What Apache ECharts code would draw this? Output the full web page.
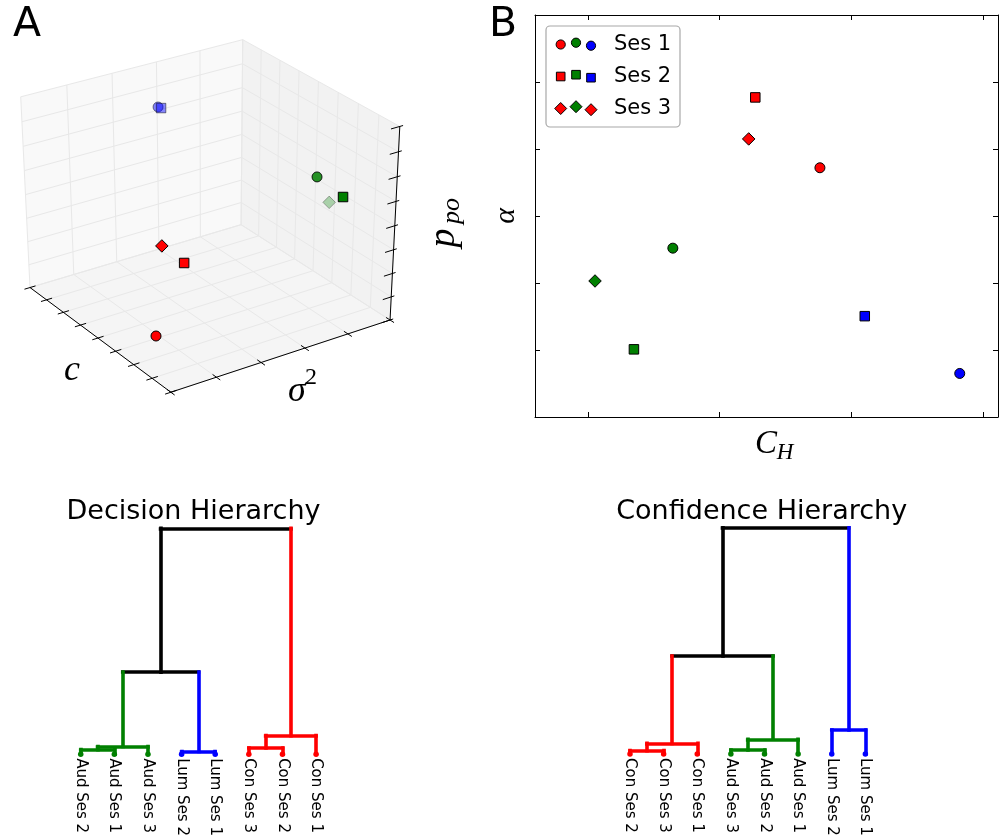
<!DOCTYPE html>
<html>
<head>
<meta charset="UTF-8">
<title>decision / confidence hierarchy</title>
<script src="https://cdn.jsdelivr.net/npm/echarts@6/dist/echarts.min.js"></script>
<style>
  html, body { margin: 0; padding: 0; background: #fff; }
  #chart { width: 999px; height: 839px; }
</style>
</head>
<body>
<div id="chart"></div>
<script>
// ---------- data ----------
var conditions = ['Con', 'Aud', 'Lum'];
var sessions = ['Ses 1', 'Ses 2', 'Ses 3'];

// A: fitted parameters, one list per condition, one value per session (axis-normalised)
var cValues      = [[0.854, 0.805, 0.707], [0.798, 0.985, 0.603], [0.147, 0.148]];
var sigma2Values = [[0.033, 0.190, 0.158], [0.784, 0.765, 0.991], [0.510, 0.523]];
var ppoValues    = [[0.198, 0.490, 0.537], [0.722, 0.718, 0.427], [0.861, 0.852]];
var cTicks      = [0, 0.125, 0.25, 0.375, 0.5, 0.625, 0.75, 0.875, 1];
var sigma2Ticks = [0, 0.2, 0.4, 0.6, 0.8, 1];
var ppoTicks    = [0, 0.125, 0.25, 0.375, 0.5, 0.625, 0.75, 0.875, 1];

// B
var chValues    = [[0.552, 0.454, 0.444], [0.329, 0.270, 0.211], [0.764, 0.620]];
var alphaValues = [[3.72, 4.77, 4.15], [2.52, 1.01, 2.03], [0.65, 1.505]];
var chTicks     = [0.2, 0.4, 0.6, 0.8];
var alphaTicks  = [1, 2, 3, 4, 5];

// C / D: leaf order, merges [left node, right node, height]; merged nodes get ids after the leaves
var decisionLeaves = ['Aud Ses 2', 'Aud Ses 1', 'Aud Ses 3', 'Lum Ses 2', 'Lum Ses 1', 'Con Ses 3', 'Con Ses 2', 'Con Ses 1'];
var decisionLinks  = [[0, 1, 0.020], [8, 2, 0.034], [3, 4, 0.012], [5, 6, 0.027], [11, 7, 0.082], [9, 10, 0.363], [13, 12, 1.0]];
var confidenceLeaves = ['Con Ses 2', 'Con Ses 3', 'Con Ses 1', 'Aud Ses 3', 'Aud Ses 2', 'Aud Ses 1', 'Lum Ses 2', 'Lum Ses 1'];
var confidenceLinks  = [[0, 1, 0.015], [8, 2, 0.047], [3, 4, 0.018], [10, 5, 0.065], [6, 7, 0.106], [9, 11, 0.433], [13, 12, 1.0]];

// ---------- styles ----------
var condColor = { Con: '#ff0000', Aud: '#008000', Lum: '#0000ff' };
var sesSymbol = ['circle', 'rect', 'diamond'];
var sesSize = [10, 9.5, 12.5];
var mathFont = '"Liberation Serif", "DejaVu Serif", serif';
var sansFont = '"DejaVu Sans", sans-serif';
var DENDRO_W = 3.6;

// ---------- 3d projection (matplotlib-like camera) ----------
var ELEV = 31, AZIM = -34, DIST = 10;
var CX = 208, CY = 210, SX = 266, SY = 224;   // where the projected box sits on the page
var GA = { left: 0, top: 0, width: 470, height: 430 };
var el = ELEV * Math.PI / 180, az = AZIM * Math.PI / 180;
var U = [-Math.sin(az), Math.cos(az), 0];
var V = [-Math.sin(el) * Math.cos(az), -Math.sin(el) * Math.sin(az), Math.cos(el)];
var N = [Math.cos(el) * Math.cos(az), Math.cos(el) * Math.sin(az), Math.sin(el)];
function dot(p, q) { return p[0] * q[0] + p[1] * q[1] + p[2] * q[2]; }
function proj(x, y, z) {
  var q = [x - 0.5, y - 0.5, z - 0.5];
  var d = dot(N, q);
  var f = DIST / (DIST - d);
  return [dot(U, q) * f, dot(V, q) * f, d];
}
function seg3(a, b) {
  var p = proj(a[0], a[1], a[2]), r = proj(b[0], b[1], b[2]);
  return { coords: [[p[0], p[1]], [r[0], r[1]]] };
}

// panes
var panes = [
  { pts: [[0, 0, 0], [1, 0, 0], [1, 1, 0], [0, 1, 0]], color: '#f5f5f5' },
  { pts: [[0, 0, 0], [0, 1, 0], [0, 1, 1], [0, 0, 1]], color: '#f9f9f9' },
  { pts: [[0, 1, 0], [1, 1, 0], [1, 1, 1], [0, 1, 1]], color: '#f2f2f2' }
];
var paneData = panes.map(function (p) {
  var out = [];
  p.pts.forEach(function (v) { var r = proj(v[0], v[1], v[2]); out.push(r[0], r[1]); });
  return out;
});

var gridSegs = [];
cTicks.forEach(function (t) { gridSegs.push(seg3([t, 0, 0], [t, 1, 0])); gridSegs.push(seg3([t, 1, 0], [t, 1, 1])); });
sigma2Ticks.forEach(function (t) { gridSegs.push(seg3([0, t, 0], [1, t, 0])); gridSegs.push(seg3([0, t, 0], [0, t, 1])); });
ppoTicks.forEach(function (t) { gridSegs.push(seg3([0, 0, t], [0, 1, t])); gridSegs.push(seg3([0, 1, t], [1, 1, t])); });

var axisSegs = [seg3([0, 0, 0], [1, 0, 0]), seg3([1, 0, 0], [1, 1, 0]), seg3([1, 1, 0], [1, 1, 1])];
cTicks.forEach(function (t) { axisSegs.push(seg3([t, -0.025, 0], [t, 0.025, 0])); });
sigma2Ticks.forEach(function (t) { axisSegs.push(seg3([0.975, t, 0], [1.025, t, 0])); });
ppoTicks.forEach(function (t) { axisSegs.push(seg3([1, 0.96, t], [1, 1.015, t])); });

// points with depth shading
var pts3 = [];
conditions.forEach(function (cond, ci) {
  cValues[ci].forEach(function (cv, si) {
    var p = proj(cv, sigma2Values[ci][si], ppoValues[ci][si]);
    pts3.push({ x: p[0], y: p[1], d: p[2], cond: cond, si: si });
  });
});
var dMax = Math.max.apply(null, pts3.map(function (p) { return p.d; }));
var dMin = Math.min.apply(null, pts3.map(function (p) { return p.d; }));
var scatter3 = pts3.map(function (p) {
  var t = (dMax - p.d) / (dMax - dMin);
  var alpha = 1 - 0.7 * Math.max(0, t - 0.1) / 0.9;
  return {
    value: [p.x, p.y], symbol: sesSymbol[p.si], symbolSize: sesSize[p.si],
    itemStyle: { color: condColor[p.cond], borderColor: '#000', borderWidth: 1, opacity: alpha }
  };
});

// ---------- B points ----------
var scatterB = [];
conditions.forEach(function (cond, ci) {
  chValues[ci].forEach(function (v, si) {
    scatterB.push({
      value: [v, alphaValues[ci][si]], symbol: sesSymbol[si], symbolSize: sesSize[si],
      itemStyle: { color: condColor[cond], borderColor: '#000', borderWidth: 1, opacity: 1 }
    });
  });
});

// ---------- dendrograms ----------
function leafColor(name) { return condColor[name.split(' ')[0]]; }
function buildDendro(leaves, links) {
  var xs = [], hs = [], cols = [], segs = [];
  function seg(p, q, c) { segs.push({ coords: [p, q], lineStyle: { color: c, width: DENDRO_W, cap: 'square', opacity: 1 } }); }
  leaves.forEach(function (name, i) { xs.push(i); hs.push(0); cols.push(leafColor(name)); });
  links.forEach(function (l) {
    var a = l[0], b = l[1], h = l[2];
    var c = cols[a] === cols[b] ? cols[a] : '#000000';
    seg([xs[a], h], [xs[b], h], c);
    seg([xs[a], hs[a]], [xs[a], h], cols[a]);
    seg([xs[b], hs[b]], [xs[b], h], cols[b]);
    xs.push((xs[a] + xs[b]) / 2); hs.push(h); cols.push(c);
  });
  return segs;
}
function leafDots(leaves) {
  return leaves.map(function (name, i) { return { value: [i, 0], itemStyle: { color: leafColor(name), opacity: 1 } }; });
}

function hiddenValue(grid, min, max) {
  return { gridIndex: grid, type: 'value', min: min, max: max, show: false };
}
function frameAxis(grid, pos, min, max, ticks) {
  return {
    gridIndex: grid, type: 'value', position: pos, min: min, max: max,
    axisLine: { show: true, onZero: false, lineStyle: { color: '#000', width: 1 } },
    axisTick: { show: true, inside: true, length: 5, customValues: ticks, lineStyle: { color: '#000', width: 1 } },
    axisLabel: { show: false }, splitLine: { show: false }
  };
}
function leafAxis(grid, leaves) {
  return {
    gridIndex: grid, type: 'category', data: leaves, position: 'bottom',
    axisLine: { show: false }, axisTick: { show: false },
    axisLabel: { rotate: -90, margin: 4, fontSize: 15, color: '#000', fontFamily: sansFont, interval: 0 }
  };
}

// ---------- legend pieces (panel B) ----------
var legendX = [560.7, 576, 591];
var legendDy = [1, -0.8, 2.2];
var legendRowY = [43.5, 75.5, 107.5];
var legendRowColors = [['Con', 'Aud', 'Lum'], ['Con', 'Aud', 'Lum'], ['Con', 'Aud', 'Con']];
var legendGraphics = [{
  type: 'rect', shape: { x: 546, y: 26, width: 134, height: 101, r: 4 },
  style: { fill: '#fff', stroke: '#a8a8a8', lineWidth: 1.2 }, z: 10
}];
sessions.forEach(function (s, ri) {
  legendRowColors[ri].forEach(function (cond, k) {
    var cx = legendX[k], cy = legendRowY[ri] + legendDy[k];
    var st = { fill: condColor[cond], stroke: '#000', lineWidth: 1 };
    var g;
    if (ri === 0) g = { type: 'circle', shape: { cx: cx, cy: cy, r: 4.6 }, style: st };
    else if (ri === 1) g = { type: 'rect', shape: { x: cx - 4.3, y: cy - 4.3, width: 8.6, height: 8.6 }, style: st };
    else g = { type: 'polygon', shape: { points: [[cx, cy - 6], [cx + 6, cy], [cx, cy + 6], [cx - 6, cy]] }, style: st };
    g.z = 11;
    legendGraphics.push(g);
  });
  legendGraphics.push({
    type: 'text', z: 11,
    style: { text: s, x: 614, y: legendRowY[ri] + 1, font: '21px ' + sansFont, fill: '#000', textAlign: 'left', textVerticalAlign: 'middle' }
  });
});

function txt(t, x, y, font, rot) {
  var o = { type: 'text', style: { text: t, x: 0, y: 0, font: font, fill: '#000', textAlign: 'center', textVerticalAlign: 'middle' }, x: x, y: y, z: 12 };
  if (rot) o.rotation = rot;
  return o;
}

var labels = [
  txt('A', 27, 25, '41px ' + sansFont),
  txt('B', 503, 25, '41px ' + sansFont),
  txt('c', 72, 371, 'italic 36px ' + mathFont),
  txt('\u03c3', 297, 392, 'italic 36px ' + mathFont),
  txt('2', 311, 378, '24px ' + mathFont),
  txt('p', 444, 238, 'italic 38px ' + mathFont, Math.PI / 2),
  txt('po', 452, 211, 'italic 26px ' + mathFont, Math.PI / 2),
  txt('\u03b1', 506, 216, 'italic 30px ' + mathFont, Math.PI / 2),
  txt('C', 766, 444, 'italic 33px ' + mathFont),
  txt('H', 785, 453, 'italic 23px ' + mathFont),
  txt('Decision Hierarchy', 193.5, 511.5, '27px ' + sansFont),
  txt('Confidence Hierarchy', 761.7, 511.5, '27px ' + sansFont)
];

var chart = echarts.init(document.getElementById('chart'), null, { renderer: 'canvas' });
chart.setOption({
  animation: false,
  backgroundColor: '#fff',
  textStyle: { fontFamily: sansFont },
  grid: [
    GA,
    { left: 535, top: 15, width: 463, height: 402 },
    { left: 63.9, top: 517, width: 269, height: 237.5 },
    { left: 613.2, top: 516.5, width: 269, height: 237.5 }
  ],
  xAxis: [
    hiddenValue(0, (GA.left - CX) / SX, (GA.left + GA.width - CX) / SX),
    frameAxis(1, 'bottom', 0.12, 0.822, chTicks),
    frameAxis(1, 'top', 0.12, 0.822, chTicks),
    leafAxis(2, decisionLeaves),
    hiddenValue(2, -0.5, 7.5),
    leafAxis(3, confidenceLeaves),
    hiddenValue(3, -0.5, 7.5)
  ],
  yAxis: [
    hiddenValue(0, (CY - GA.top - GA.height) / SY, (CY - GA.top) / SY),
    frameAxis(1, 'left', 0, 6, alphaTicks),
    frameAxis(1, 'right', 0, 6, alphaTicks),
    hiddenValue(2, 0, 1.05),
    hiddenValue(3, 0, 1.05)
  ],
  series: [
    {
      type: 'custom', xAxisIndex: 0, yAxisIndex: 0, silent: true, clip: false, z: 1,
      data: paneData,
      renderItem: function (params, api) {
        var pts = [];
        for (var k = 0; k < 4; k++) pts.push(api.coord([api.value(2 * k), api.value(2 * k + 1)]));
        return { type: 'polygon', shape: { points: pts }, style: { fill: panes[params.dataIndex].color, stroke: null } };
      }
    },
    { type: 'lines', coordinateSystem: 'cartesian2d', xAxisIndex: 0, yAxisIndex: 0, silent: true, z: 2,
      lineStyle: { color: '#e8e8e8', width: 1, opacity: 1 }, data: gridSegs },
    { type: 'lines', coordinateSystem: 'cartesian2d', xAxisIndex: 0, yAxisIndex: 0, silent: true, z: 3,
      lineStyle: { color: '#000', width: 1, opacity: 1 }, data: axisSegs },
    { type: 'scatter', xAxisIndex: 0, yAxisIndex: 0, silent: true, z: 4, data: scatter3 },
    { type: 'scatter', xAxisIndex: 1, yAxisIndex: 1, silent: true, z: 4, data: scatterB },
    { type: 'lines', coordinateSystem: 'cartesian2d', xAxisIndex: 4, yAxisIndex: 3, silent: true, z: 3,
      lineStyle: { width: DENDRO_W, opacity: 1, cap: 'square' }, data: buildDendro(decisionLeaves, decisionLinks) },
    { type: 'scatter', xAxisIndex: 4, yAxisIndex: 3, silent: true, z: 4, symbolSize: 5.5, data: leafDots(decisionLeaves) },
    { type: 'lines', coordinateSystem: 'cartesian2d', xAxisIndex: 6, yAxisIndex: 4, silent: true, z: 3,
      lineStyle: { width: DENDRO_W, opacity: 1, cap: 'square' }, data: buildDendro(confidenceLeaves, confidenceLinks) },
    { type: 'scatter', xAxisIndex: 6, yAxisIndex: 4, silent: true, z: 4, symbolSize: 5.5, data: leafDots(confidenceLeaves) }
  ],
  graphic: legendGraphics.concat(labels)
});
</script>
</body>
</html>
